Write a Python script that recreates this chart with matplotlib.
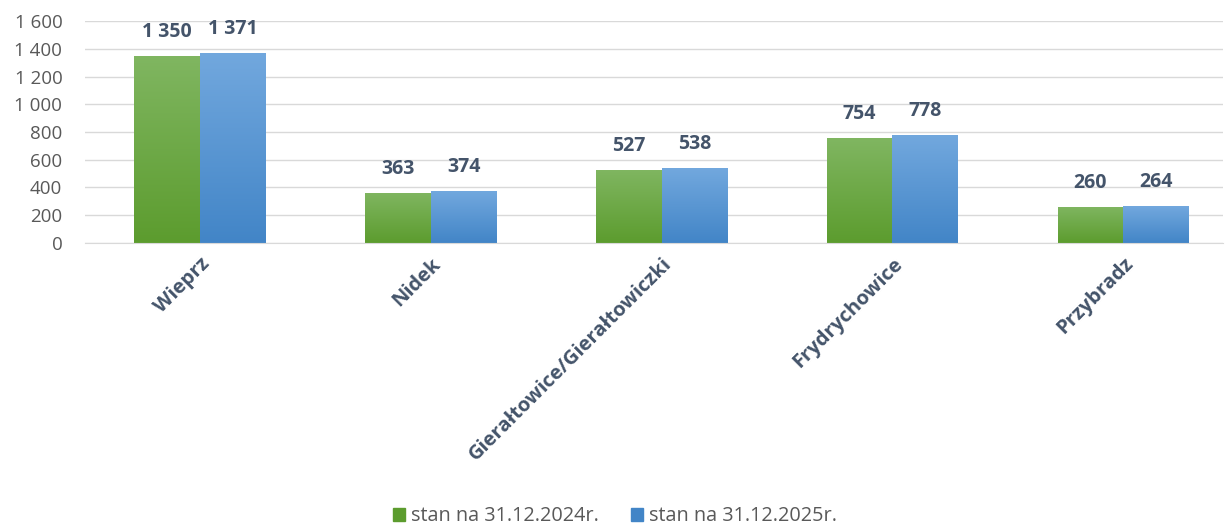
import matplotlib.pyplot as plt
import matplotlib.transforms as mtransforms
import numpy as np
from matplotlib.colors import LinearSegmentedColormap

plt.rcParams['font.family'] = ['Open Sans', 'DejaVu Sans']

categories = ['Wieprz', 'Nidek', 'Gierałtowice/Gierałtowiczki', 'Frydrychowice', 'Przybradz']
values_2024 = [1350, 363, 527, 754, 260]
values_2025 = [1371, 374, 538, 778, 264]
series_names = ['stan na 31.12.2024r.', 'stan na 31.12.2025r.']
yticks = [0, 200, 400, 600, 800, 1000, 1200, 1400, 1600]

green = ('#80b661', '#5c9c2e')
blue = ('#72a8de', '#4285c7')


def fmt(v):
    return '{:,}'.format(v).replace(',', ' ')


def gradient_bars(ax, x, heights, width, colors):
    cmap = LinearSegmentedColormap.from_list('g', [colors[1], colors[0]])
    bars = ax.bar(x, heights, width, color='none', edgecolor='none')
    grad = np.linspace(0, 1, 256).reshape(-1, 1)
    for b in bars:
        x0, y0 = b.get_x(), b.get_y()
        im = ax.imshow(grad, cmap=cmap, aspect='auto', origin='lower',
                       extent=[x0, x0 + b.get_width(), y0, y0 + b.get_height()],
                       zorder=2)
        im.set_clip_path(b)
    return bars


fig = plt.figure(figsize=(12.25, 5.28), dpi=100)
ax = fig.add_axes([0.069, 0.54, 0.929, 0.42])

x = np.arange(len(categories))
w = 0.285
b1 = gradient_bars(ax, x - w / 2, values_2024, w, green)
b2 = gradient_bars(ax, x + w / 2, values_2025, w, blue)

for bars, vals in ((b1, values_2024), (b2, values_2025)):
    for b, v in zip(bars, vals):
        ax.annotate(fmt(v), (b.get_x() + b.get_width() / 2, b.get_height()),
                    xytext=(0, 10), textcoords='offset points',
                    ha='center', va='bottom', fontsize=14, fontweight='bold',
                    color='#44546a')

ax.set_xlim(-0.5, 4.43)
ax.set_ylim(0, 1600)
ax.set_yticks(yticks)
ax.set_yticklabels([fmt(t) for t in yticks], fontsize=13.5, color='#595959')
ax.set_xticks(x)
ax.set_xticklabels(categories, rotation=45, ha='right', rotation_mode='anchor',
                   fontsize=14.5, fontweight='bold', color='#44546a')
shift = mtransforms.ScaledTranslation(-10 / 100, -4 / 100, fig.dpi_scale_trans)
for lbl in ax.get_xticklabels():
    lbl.set_transform(lbl.get_transform() + shift)
ax.tick_params(axis='both', length=0)
ax.tick_params(axis='y', pad=16)
ax.tick_params(axis='x', pad=8)
ax.grid(axis='y', color='#d9d9d9', linewidth=1)
ax.set_axisbelow(True)
for s in ['top', 'right', 'left']:
    ax.spines[s].set_visible(False)
ax.spines['bottom'].set_color('#d9d9d9')

handles = [plt.Rectangle((0, 0), 1, 1, color=green[1]),
           plt.Rectangle((0, 0), 1, 1, color=blue[1])]
fig.legend(handles, series_names, loc='center', bbox_to_anchor=(0.502, 0.022),
           ncol=2, frameon=False, fontsize=14.3, handlelength=0.6, handleheight=0.6,
           handletextpad=0.3, columnspacing=1.6, labelcolor='#595959')

fig.savefig('out.png', dpi=100)
